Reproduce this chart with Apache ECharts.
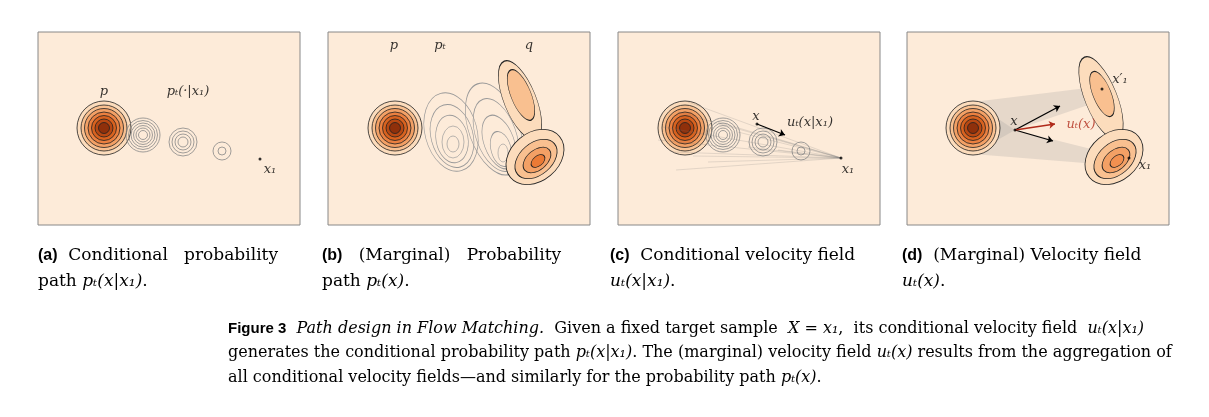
<!DOCTYPE html>
<html>
<head>
<meta charset="utf-8">
<script src="https://cdn.jsdelivr.net/npm/echarts@6/dist/echarts.min.js"></script>
<style>
  html, body { margin: 0; padding: 0; background: #fff; }
  #chart { width: 1209px; height: 417px; }
</style>
</head>
<body>
<div id="chart"></div>
<script>
// panel positions on the page (left edge of each box)
const panelLeft = [38, 328, 618, 907];

// ellipses: [panel, cx, cy, rx, ry, rotationDeg, fill ('' = none), stroke]
const pRadii = [27, 23, 19.5, 16, 12.5, 9, 5.5];
const pColors = ["#fcdcbc", "#f9c090", "#f3a065", "#eb8040", "#d8621f", "#b84813", "#8f300b"];
const pCenters = [[0, 66, 96], [1, 67, 96], [2, 67, 96], [3, 66, 96]];

const grayRings = [
  // panel, cx, cy, radii
  [0, 105, 103, [17, 14.5, 12, 9.5, 7, 4.5]],
  [0, 145, 110, [14, 11, 8, 5]],
  [0, 184, 119, [9, 4]],
  [2, 105, 103, [17, 14.5, 12, 9.5, 7, 4.5]],
  [2, 145, 110, [14, 11, 8, 5]],
  [2, 183, 119, [9, 4]]
];

const blobRings = [
  [1, 123, 100, 26, 40, -15], [1, 124, 104, 21, 32, -15], [1, 124, 107, 16, 24, -10],
  [1, 125, 110, 11, 16, 0], [1, 125, 112, 6, 8, 0],
  [1, 166, 97, 25, 48, -20], [1, 168, 103, 20, 38, -20], [1, 171, 110, 15, 28, -20],
  [1, 173, 117, 10, 18, -15], [1, 175, 121, 5, 9, 0]
];

const qShapes = [
  [1, 192, 68, 16, 42, -22, "#fcdcbc"], [1, 207, 125, 32, 24, -40, "#fcdcbc"],
  [1, 193, 63, 10, 27, -22, "#f9c090"], [1, 208, 127, 24, 16, -40, "#f9c090"],
  [1, 209, 128, 16, 10, -40, "#f3a065"], [1, 210, 129, 8, 5, -40, "#eb7a35"],
  [3, 194, 66, 16, 44, -22, "#fcdcbc"], [3, 207, 125, 32, 24, -40, "#fcdcbc"],
  [3, 195, 62, 9, 24, -22, "#f9c090"], [3, 208, 127, 24, 16, -40, "#f9c090"],
  [3, 209, 128, 16, 10, -40, "#f3a065"], [3, 210, 129, 8, 5, -40, "#f39050"]
];

// faint flow lines in panel c: start points that all run to x1
const fanTarget = [223, 126];
const fanStarts = [[70, 70], [60, 80], [45, 95], [40, 108], [55, 120], [75, 124], [58, 138], [90, 130], [100, 90], [120, 100], [130, 115], [150, 104], [160, 118]];

// grey shaded regions in panel d
const shadeD = [
  [[66, 70], [188, 55], [190, 70], [108, 98], [66, 122]],
  [[66, 70], [108, 98], [188, 118], [190, 132], [66, 122]]
];

// arrows: [panel, x0, y0, x1, y1, colour]
const arrows = [
  [2, 139, 92, 167, 103, "#000"],
  [3, 108, 98, 153, 74, "#000"],
  [3, 108, 98, 146, 109, "#000"],
  [3, 108, 98, 148, 92, "#b02a1a"]
];

// dots: [panel, x, y]
const dots = [[0, 222, 127], [2, 223, 126], [3, 195, 57], [3, 222, 126], [2, 139, 92], [3, 108, 98]];

// math labels: [panel, x, y, text, colour]
const labels = [
  [0, 66, 60, "p", "#000"], [0, 150, 60, "pₜ(·|x₁)", "#000"], [0, 232, 138, "x₁", "#000"],
  [1, 66, 14, "p", "#000"], [1, 112, 14, "pₜ", "#000"], [1, 201, 14, "q", "#000"],
  [2, 138, 85, "x", "#000"], [2, 192, 91, "uₜ(x|x₁)", "#000"], [2, 230, 138, "x₁", "#000"],
  [3, 107, 90, "x", "#000"], [3, 174, 93, "uₜ(x)", "#b02a1a"],
  [3, 213, 48, "x′₁", "#000"], [3, 238, 134, "x₁", "#000"]
];

const ellipses = [];
pCenters.forEach(c => pRadii.forEach((r, i) => ellipses.push([c[0], c[1], c[2], r, r, 0, pColors[i], "#222"])));
grayRings.forEach(g => g[3].forEach(r => ellipses.push([g[0], g[1], g[2], r, r, 0, "", "#888"])));
blobRings.forEach(b => ellipses.push([b[0], b[1], b[2], b[3], b[4], b[5], "", "#999"]));

const qEll = qShapes.map(q => [q[0], q[1], q[2], q[3], q[4], q[5], q[6], "#222"]);

const grids = panelLeft.map(l => ({
  left: l, top: 32, width: 262, height: 193, show: true,
  backgroundColor: "#fdebd9", borderColor: "#888", borderWidth: 1
}));
const xAxes = panelLeft.map((l, i) => ({ gridIndex: i, type: "value", min: 0, max: 262, show: false }));
const yAxes = panelLeft.map((l, i) => ({ gridIndex: i, type: "value", min: 0, max: 193, inverse: true, show: false }));

function ellipseItem(params, api) {
  const c = api.coord([api.value(1), api.value(2)]);
  const s = api.size([api.value(3), api.value(4)]);
  const fill = api.value(6);
  return {
    type: "circle",
    x: c[0], y: c[1],
    scaleX: s[0] / s[1], scaleY: 1,
    rotation: -api.value(5) * Math.PI / 180,
    shape: { cx: 0, cy: 0, r: s[1] },
    style: { fill: fill ? fill : "none", stroke: api.value(7), lineWidth: 0.8, strokeNoScale: true }
  };
}

const series = [];
for (let p = 0; p < 4; p++) {
  const ax = { xAxisIndex: p, yAxisIndex: p };
  if (p === 3) {
    series.push(Object.assign({
      type: "custom", silent: true, data: shadeD.map((s, i) => [i]),
      renderItem: (params, api) => ({
        type: "polygon",
        shape: { points: shadeD[api.value(0)].map(pt => api.coord(pt)) },
        style: { fill: "rgba(150,150,150,0.22)" }
      })
    }, ax));
  }
  series.push(Object.assign({
    type: "custom", silent: true,
    data: ellipses.filter(e => e[0] === p), dimensions: ["p", "cx", "cy", "rx", "ry", "rot", "fill", "stroke"],
    encode: { x: 1, y: 2 },
    renderItem: ellipseItem
  }, ax));
  series.push(Object.assign({
    type: "custom", silent: true,
    data: qEll.filter(e => e[0] === p), dimensions: ["p", "cx", "cy", "rx", "ry", "rot", "fill", "stroke"],
    encode: { x: 1, y: 2 },
    renderItem: ellipseItem
  }, ax));
  if (p === 2) {
    series.push(Object.assign({
      type: "custom", silent: true, data: fanStarts,
      renderItem: (params, api) => ({
        type: "line",
        shape: (() => { const a = api.coord([api.value(0), api.value(1)]); const b = api.coord(fanTarget); return { x1: a[0], y1: a[1], x2: b[0], y2: b[1] }; })(),
        style: { stroke: "rgba(120,120,120,0.25)", lineWidth: 0.8 }
      })
    }, ax));
  }
  series.push(Object.assign({
    type: "lines", coordinateSystem: "cartesian2d", silent: true,
    symbol: ["none", "arrow"], symbolSize: 6,
    data: arrows.filter(a => a[0] === p).map(a => ({
      coords: [[a[1], a[2]], [a[3], a[4]]], lineStyle: { color: a[5], width: 1.3, opacity: 1 }
    }))
  }, ax));
  series.push(Object.assign({
    type: "scatter", silent: true, symbolSize: 3, itemStyle: { color: "#000" },
    data: dots.filter(d => d[0] === p).map(d => [d[1], d[2]])
  }, ax));
  series.push(Object.assign({
    type: "scatter", silent: true, symbolSize: 0,
    data: labels.filter(l => l[0] === p).map(l => ({
      value: [l[1], l[2]],
      label: { show: true, formatter: l[3], color: l[4], position: "inside",
        fontFamily: "DejaVu Serif", fontStyle: "italic", fontSize: 13 }
    }))
  }, ax));
}

const serif = "DejaVu Serif";
const rich = {
  b: { fontFamily: "Liberation Sans", fontWeight: "bold", fontSize: 16, color: "#111" },
  n: { fontFamily: serif, fontSize: 17, color: "#111" },
  i: { fontFamily: serif, fontStyle: "italic", fontSize: 17, color: "#111" },
  fb: { fontFamily: "Liberation Sans", fontWeight: "bold", fontSize: 15, color: "#111" },
  fn: { fontFamily: serif, fontSize: 16, color: "#111" },
  fi: { fontFamily: serif, fontStyle: "italic", fontSize: 16, color: "#111" }
};
function cap(x, y, text) {
  return { type: "text", left: x, top: y, style: { text: text, rich: rich } };
}

const graphics = [
  cap(38, 247, "{b|(a)}{n|  Conditional   probability}"), cap(38, 273, "{n|path }{i|pₜ(x|x₁)}{n|.}"),
  cap(322, 247, "{b|(b)}{n|   (Marginal)   Probability}"), cap(322, 273, "{n|path }{i|pₜ(x)}{n|.}"),
  cap(610, 247, "{b|(c)}{n|  Conditional velocity field}"), cap(610, 273, "{i|uₜ(x|x₁)}{n|.}"),
  cap(902, 247, "{b|(d)}{n|  (Marginal) Velocity field}"), cap(902, 273, "{i|uₜ(x)}{n|.}"),
  cap(228, 321, "{fb|Figure 3}{fi|  Path design in Flow Matching.}{fn|  Given a fixed target sample  }{fi|X = x₁}{fn|,  its conditional velocity field  }{fi|uₜ(x|x₁)}"),
  cap(228, 345, "{fn|generates the conditional probability path }{fi|pₜ(x|x₁)}{fn|. The (marginal) velocity field }{fi|uₜ(x)}{fn| results from the aggregation of}"),
  cap(228, 370, "{fn|all conditional velocity fields—and similarly for the probability path }{fi|pₜ(x)}{fn|.}")
];

const chart = echarts.init(document.getElementById("chart"));
chart.setOption({
  animation: false,
  grid: grids, xAxis: xAxes, yAxis: yAxes,
  series: series,
  graphic: graphics
});
</script>
</body>
</html>
